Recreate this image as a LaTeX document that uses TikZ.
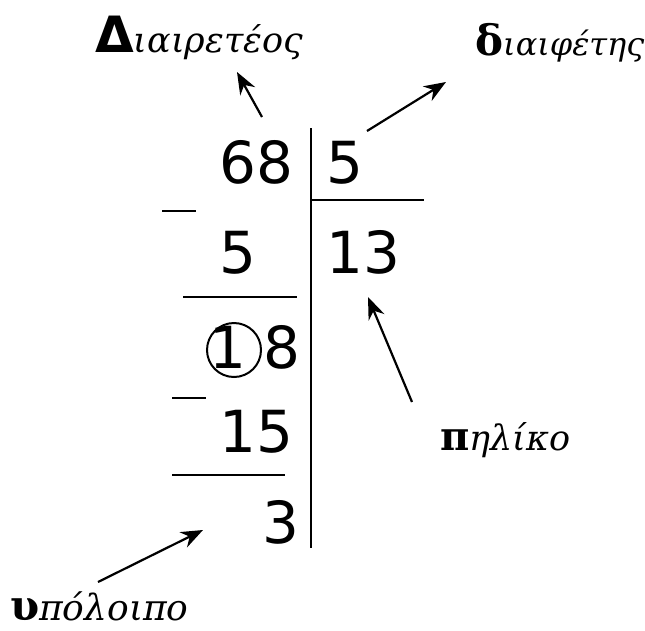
\documentclass[tikz,border=0pt]{standalone}
\usepackage{fontspec}
\setmainfont{DejaVu Sans}
\newfontfamily\digitfont{DejaVu Sans}
\newfontfamily\smallfont{DejaVu Serif}
\newfontfamily\headfont{DejaVu Sans}
\usetikzlibrary{arrows.meta}
\begin{document}
\begin{tikzpicture}[x=1pt,y=-1pt,
  digit/.style={inner sep=0pt,anchor=base west,font=\digitfont\fontsize{58}{62}\selectfont},
  lbl/.style={inner sep=0pt,anchor=base west},
  rule/.style={line width=2.8pt,black},
  pointer/.style={line width=2.2pt,-{Stealth[length=22pt,width=17pt]}}]
\useasboundingbox (0,0) rectangle (645,630);
% rules
\coordinate (vt) at (311,128);
\coordinate (vb) at (311,548);
\coordinate (hl) at (311,200);
\coordinate (hr) at (424,200);
\draw[rule] (vt) -- (vb);
\draw[rule] (hl) -- (hr);
\coordinate (m1a) at (162,211); \coordinate (m1b) at (196,211);
\coordinate (m2a) at (172,398); \coordinate (m2b) at (206,398);
\coordinate (r1a) at (183,297); \coordinate (r1b) at (297,297);
\coordinate (r2a) at (172,475); \coordinate (r2b) at (285,475);
\draw[rule] (m1a) -- (m1b);
\draw[rule] (m2a) -- (m2b);
\draw[rule] (r1a) -- (r1b);
\draw[rule] (r2a) -- (r2b);
% digits
\node[digit] (n68) at (219,183) {68};
\node[digit] (nd) at (326,183) {5};
\node[digit] (n5) at (219,273) {5};
\node[digit] (n13) at (326,273) {13};
\node[digit] (n1) at (209,368) {1};
\draw[line width=2pt] (234,350) circle (27);
\node[digit] (n8) at (263,368) {8};
\node[digit] (n15) at (219,452) {15};
\node[digit] (n3) at (262,543) {3};
% labels
\node[lbl] (l1) at (95,52) {{\headfont\bfseries\fontsize{50}{56}\selectfont Δ}{\smallfont\itshape\fontsize{35}{38}\selectfont ιαιρετέος}};
\node[lbl] (l2) at (475,55) {{\smallfont\bfseries\fontsize{42}{46}\selectfont δ}{\smallfont\itshape\fontsize{32}{36}\selectfont ιαιφέτης}};
\node[lbl] (l3) at (440,450) {{\smallfont\bfseries\fontsize{40}{46}\selectfont π}{\smallfont\itshape\fontsize{35}{38}\selectfont ηλίκο}};
\node[lbl] (l4) at (10,620) {{\smallfont\bfseries\fontsize{42}{46}\selectfont υ}{\smallfont\itshape\fontsize{36}{38}\selectfont πόλοιπο}};
% arrows
\coordinate (a1s) at (262,117); \coordinate (a1e) at (237,72);
\coordinate (a2s) at (367,131); \coordinate (a2e) at (446,82);
\coordinate (a3s) at (412,402); \coordinate (a3e) at (368,297);
\coordinate (a4s) at (98,582);  \coordinate (a4e) at (203,530);
\draw[pointer] (a1s) -- (a1e);
\draw[pointer] (a2s) -- (a2e);
\draw[pointer] (a3s) -- (a3e);
\draw[pointer] (a4s) -- (a4e);
\end{tikzpicture}
\end{document}
